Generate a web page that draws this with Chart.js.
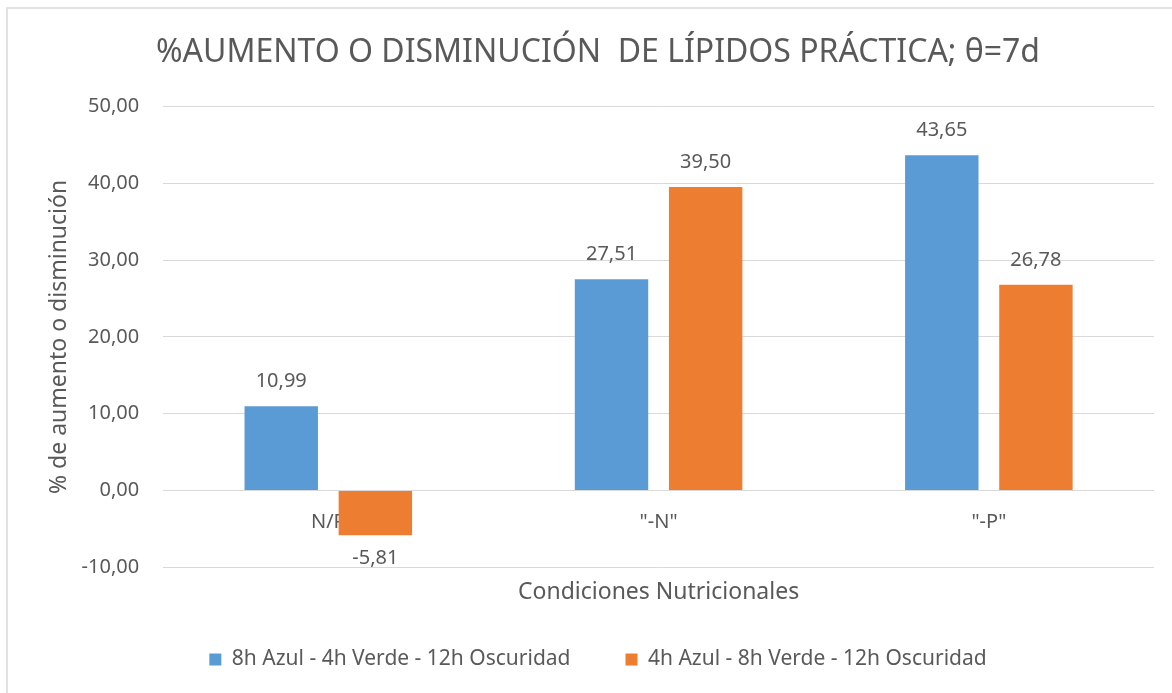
<!DOCTYPE html>
<html>
<head>
<meta charset="utf-8">
<script src="https://cdn.jsdelivr.net/npm/chart.js@4.4.0/dist/chart.umd.min.js"></script>
<style>
  body { margin: 0; background: #fff; }
  #wrap { width: 1172px; height: 693px; position: relative; }
</style>
</head>
<body>
<div id="wrap"><canvas id="grafico" width="1172" height="693"></canvas></div>
<script>
const categorias = ['N/P', '"-N"', '"-P"'];
const serieAzul = [10.99, 27.51, 43.65];
const serieNaranja = [-5.81, 39.50, 26.78];
const nombreAzul = '8h Azul - 4h Verde - 12h Oscuridad';
const nombreNaranja = '4h Azul - 8h Verde - 12h Oscuridad';

const gris = '#595959';
const fuente = "'Noto Sans', sans-serif";
const coma = v => v.toFixed(2).replace('.', ',');

// etiquetas de valor encima / debajo de cada barra
const etiquetas = {
    id: 'etiquetas',
    afterDatasetsDraw(chart) {
        const ctx = chart.ctx;
        ctx.save();
        ctx.font = '20px ' + fuente;
        ctx.fillStyle = gris;
        ctx.textAlign = 'center';
        chart.data.datasets.forEach((ds, i) => {
            chart.getDatasetMeta(i).data.forEach((bar, j) => {
                const v = ds.data[j];
                if (v >= 0) {
                    ctx.textBaseline = 'bottom';
                    ctx.fillText(coma(v), bar.x, bar.y - 15);
                } else {
                    ctx.textBaseline = 'top';
                    ctx.fillText(coma(v), bar.x, bar.y + 13);
                }
            });
        });
        ctx.restore();
    }
};

// borde claro del area del grafico
const borde = {
    id: 'borde',
    beforeDraw(chart) {
        const ctx = chart.ctx;
        ctx.save();
        ctx.strokeStyle = '#e2e2e2';
        ctx.lineWidth = 2;
        ctx.beginPath();
        ctx.moveTo(7, chart.height);
        ctx.lineTo(7, 8);
        ctx.lineTo(chart.width, 8);
        ctx.stroke();
        ctx.restore();
    }
};

new Chart(document.getElementById('grafico'), {
    type: 'bar',
    data: {
        labels: categorias,
        datasets: [{
            label: nombreAzul,
            data: serieAzul,
            backgroundColor: '#5B9BD5',
            barPercentage: 0.78,
            categoryPercentage: 0.57
        }, {
            label: nombreNaranja,
            data: serieNaranja,
            backgroundColor: '#ED7D31',
            barPercentage: 0.78,
            categoryPercentage: 0.57
        }]
    },
    options: {
        responsive: false,
        animation: false,
        layout: { padding: { left: 42, right: 18, top: 12, bottom: 13 } },
        plugins: {
            title: {
                display: true,
                text: '%AUMENTO O DISMINUCIÓN  DE LÍPIDOS PRÁCTICA; θ=7d',
                color: gris,
                font: { family: fuente, size: 32, weight: 'normal' },
                padding: { top: 22, bottom: 34 }
            },
            legend: {
                position: 'bottom',
                labels: {
                    color: gris,
                    font: { family: fuente, size: 21 },
                    boxWidth: 12,
                    boxHeight: 12,
                    padding: 55
                }
            },
            tooltip: { enabled: false }
        },
        scales: {
            x: {
                position: { y: 0 },
                grid: { display: false },
                border: { display: false },
                ticks: { color: gris, font: { family: fuente, size: 20 }, padding: 12 }
            },
            x2: {
                type: 'category',
                position: 'bottom',
                grid: { display: false },
                border: { display: false },
                ticks: { display: false },
                title: {
                    display: true,
                    text: 'Condiciones Nutricionales',
                    color: gris,
                    font: { family: fuente, size: 23 },
                    padding: { top: 3, bottom: -12 }
                }
            },
            y: {
                min: -10,
                max: 50,
                ticks: {
                    stepSize: 10,
                    color: gris,
                    font: { family: fuente, size: 20 },
                    padding: 24,
                    callback: v => coma(v)
                },
                grid: { color: '#d9d9d9', drawTicks: false },
                border: { display: false },
                title: {
                    display: true,
                    text: '% de aumento o disminución',
                    color: gris,
                    font: { family: fuente, size: 23 },
                    padding: { top: 4, bottom: -16 }
                }
            }
        }
    },
    plugins: [etiquetas, borde]
});
</script>
</body>
</html>
